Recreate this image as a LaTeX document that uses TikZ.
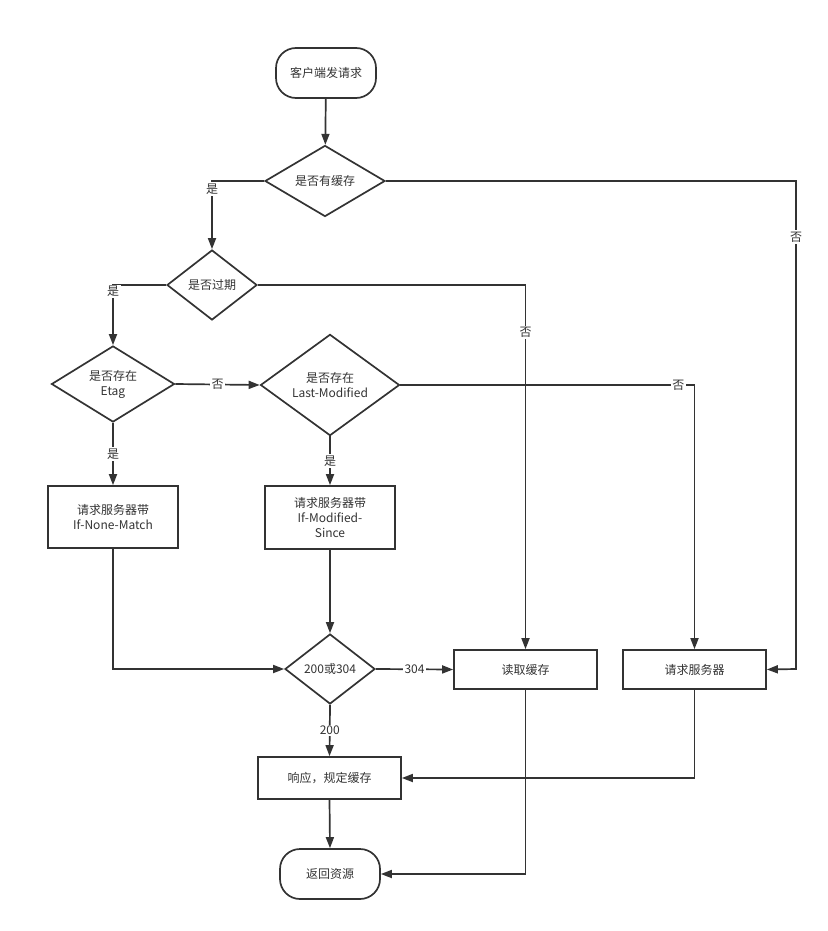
\documentclass[tikz,border=0pt]{standalone}
\usepackage{fontspec}
\setmainfont{Noto Sans CJK SC}
\usetikzlibrary{shapes.geometric,arrows.meta}
\definecolor{ink}{HTML}{333333}
\tikzset{
  base/.style={draw=ink,line width=1.7pt,text=ink,font=\fontsize{12}{15}\selectfont,align=center,inner sep=0pt},
  term/.style={base,rectangle,rounded corners=20pt,minimum width=100pt,minimum height=50pt},
  proc/.style={base,rectangle,minimum width=#1,minimum height=40pt},
  proc/.default=143pt,
  dec/.style={base,diamond},
  conn/.style={draw=ink,line width=1.7pt,-{Triangle[length=11pt,width=8pt]}},
  lab/.style={fill=white,text=ink,font=\fontsize{12}{15}\selectfont,inner sep=1.5pt}
}
\begin{document}
\begin{tikzpicture}[x=1pt,y=-1pt]
\useasboundingbox (0,0) rectangle (827,931);
\node[term] (start) at (326,73) {客户端发请求};
\node[dec,minimum width=120pt,minimum height=68pt] (d1) at (325,181) {是否有缓存};
\node[dec,minimum width=90pt,minimum height=70pt] (d2) at (212,285) {是否过期};
\node[dec,minimum width=123pt,minimum height=70pt] (d3) at (113,384) {是否存在\\Etag};
\node[dec,minimum width=139pt,minimum height=89pt] (d4) at (330,385) {是否存在\\Last-Modified};
\node[proc=130pt,minimum height=62pt] (b1) at (113,517) {请求服务器带\\If-None-Match};
\node[proc=130pt,minimum height=63pt] (b2) at (330,517.5) {请求服务器带\\If-Modified-\\Since};
\node[dec,minimum width=90pt,minimum height=70pt] (d5) at (330,669) {200或304};
\node[proc,minimum height=39pt] (b3) at (525.5,669.5) {读取缓存};
\node[proc,minimum height=39pt] (b4) at (694.5,669.5) {请求服务器};
\node[proc,minimum height=42pt] (b5) at (329.5,778) {响应，规定缓存};
\node[term] (end) at (330,874) {返回资源};

\coordinate (c1) at (212,181);
\coordinate (c2) at (796,181);
\coordinate (c3) at (796,669);
\coordinate (c4) at (113,285);
\coordinate (c5) at (525.5,285);
\coordinate (c6) at (694.5,385);
\coordinate (c7) at (113,669);
\coordinate (c8) at (525.5,874);
\coordinate (c9) at (694.5,778);

\draw[conn] (start) -- (d1);
\draw[conn] (d1.west) -- (c1) -- node[lab,pos=0.12]{是} (d2.north);
\draw[conn] (d1.east) -- (c2) -- node[lab,pos=0.115]{否} (c3) -- (b4.east);
\draw[conn] (d2.west) -- (c4) -- node[lab,pos=0.11]{是} (d3.north);
\draw[conn] (d2.east) -- (c5) -- node[lab,pos=0.13]{否} (b3.north);
\draw[conn] (d3.east) -- node[lab,pos=0.5]{否} (d4.west);
\draw[conn] (d3.south) -- node[lab]{是} (b1.north);
\draw[conn] (d4.east) -- node[lab,pos=0.945]{否} (c6) -- (b4.north);
\draw[conn] (d4.south) -- node[lab]{是} (b2.north);
\draw[conn] (b1.south) -- (c7) -- (d5.west);
\draw[conn] (b2.south) -- (d5.north);
\draw[conn] (d5.east) -- node[lab]{304} (b3.west);
\draw[conn] (d5.south) -- node[lab]{200} (b5.north);
\draw[conn] (b3.south) -- (c8) -- (end.east);
\draw[conn] (b4.south) -- (c9) -- (b5.east);
\draw[conn] (b5.south) -- (end.north);
\end{tikzpicture}
\end{document}
